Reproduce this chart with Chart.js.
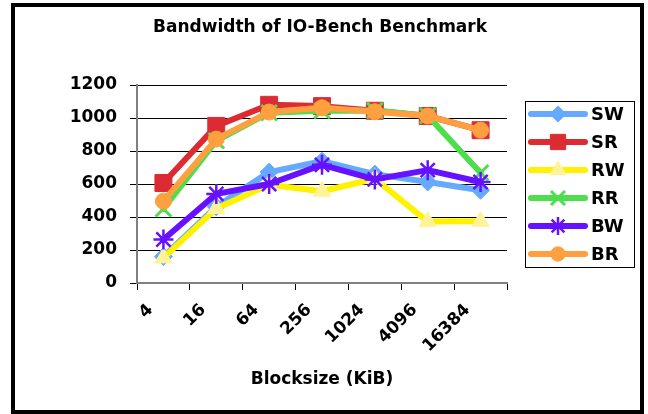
<!DOCTYPE html>
<html>
<head>
<meta charset="utf-8">
<script src="https://cdn.jsdelivr.net/npm/chart.js@4.4.1/dist/chart.umd.min.js"></script>
<style>
  html, body { margin: 0; padding: 0; background: #ffffff; }
  #wrap { width: 648px; height: 414px; }
</style>
</head>
<body>
<div id="wrap"><canvas id="c" width="648" height="414"></canvas></div>
<script>
// Block sizes on the category axis (KiB)
const blockSizes = ['4', '16', '64', '256', '1024', '4096', '16384'];

// Bandwidth per access pattern
const swValues = [160, 462, 672, 738, 660, 612, 562];
const srValues = [606, 952, 1080, 1072, 1044, 1012, 926];
const rwValues = [152, 452, 596, 556, 632, 372, 374];
const rrValues = [450, 862, 1032, 1044, 1046, 1014, 668];
const bwValues = [264, 540, 600, 716, 628, 684, 612];
const brValues = [496, 872, 1036, 1062, 1038, 1012, 926];

// Value axis
const yMin = 0;
const yMax = 1200;
const yStep = 200;

const chartTitle = 'Bandwidth of IO-Bench Benchmark';
const xAxisTitle = 'Blocksize (KiB)';
const FONT = '"DejaVu Sans", Verdana, sans-serif';

function series(label, data, color, style, radius, extra) {
  return Object.assign({
    label: label,
    data: data,
    borderColor: color,
    backgroundColor: color,
    borderWidth: 6,
    borderCapStyle: 'round',
    borderJoinStyle: 'round',
    pointStyle: style,
    pointRadius: radius,
    pointHoverRadius: radius,
    pointBackgroundColor: color,
    pointBorderColor: color,
    pointBorderWidth: 1,
    tension: 0,
    fill: false
  }, extra || {});
}

const datasets = [
  series('SW', swValues, '#66aaff', 'rectRot', 9, { order: 6 }),
  series('SR', srValues, '#dd2b33', 'rect', 12, { order: 5 }),
  series('RW', rwValues, '#fff200', 'triangle', 10, {
    order: 4, pointBackgroundColor: '#fff39a', pointBorderColor: '#fff39a'
  }),
  series('RR', rrValues, '#4ddd4d', 'crossRot', 11, { order: 3, pointBorderWidth: 3 }),
  series('BW', bwValues, '#6611ff', 'star', 10, { order: 2, pointBorderWidth: 2.5 }),
  series('BR', brValues, '#ffa040', 'circle', 8, { order: 1 })
];

// Frame, title and the boxed legend on the right
const decorations = {
  id: 'decorations',
  afterDraw(chart) {
    const ctx = chart.ctx;
    ctx.save();

    // outer frame
    ctx.strokeStyle = '#000';
    ctx.lineWidth = 4;
    ctx.strokeRect(13, 5, 629, 407);

    // title
    ctx.fillStyle = '#000';
    ctx.font = 'bold 17px ' + FONT;
    ctx.textAlign = 'center';
    ctx.textBaseline = 'middle';
    ctx.fillText(chartTitle, 320, 28);

    // legend box
    ctx.lineWidth = 1;
    ctx.strokeStyle = '#000';
    ctx.strokeRect(525.5, 101.5, 109, 166);

    ctx.font = 'bold 18px ' + FONT;
    ctx.textAlign = 'left';
    chart.data.datasets.forEach((ds, i) => {
      const y = 114 + i * 28;
      ctx.strokeStyle = ds.borderColor;
      ctx.lineWidth = 6;
      ctx.lineCap = 'round';
      ctx.beginPath();
      ctx.moveTo(531, y);
      ctx.lineTo(585, y);
      ctx.stroke();

      ctx.fillStyle = ds.pointBackgroundColor;
      ctx.strokeStyle = ds.pointBorderColor;
      ctx.lineWidth = ds.pointBorderWidth;
      ctx.lineCap = 'butt';
      Chart.helpers.drawPoint(ctx, {
        pointStyle: ds.pointStyle,
        radius: ds.pointRadius * 0.9,
        rotation: 0,
        borderWidth: ds.pointBorderWidth
      }, 558, y);

      ctx.fillStyle = '#000';
      ctx.fillText(ds.label, 591, y + 1);
    });
    ctx.restore();
  }
};

new Chart(document.getElementById('c'), {
  type: 'line',
  data: { labels: blockSizes, datasets: datasets },
  options: {
    responsive: false,
    animation: false,
    devicePixelRatio: 1,
    layout: { padding: { left: 10, right: 141, top: 85, bottom: 24 } },
    plugins: {
      legend: { display: false },
      title: { display: false },
      tooltip: { enabled: false }
    },
    scales: {
      x: {
        type: 'category',
        offset: true,
        grid: {
          offset: true,
          drawOnChartArea: false,
          drawTicks: true,
          tickLength: 7,
          color: '#000'
        },
        border: { color: '#808080', width: 2 },
        ticks: {
          minRotation: 45,
          maxRotation: 45,
          padding: 10,
          labelOffset: -13,
          color: '#000',
          font: { family: FONT, size: 17, weight: 'bold' }
        },
        title: {
          display: true,
          text: xAxisTitle,
          color: '#000',
          padding: 0,
          font: { family: FONT, size: 17, weight: 'bold' }
        },
        afterFit(scale) { scale.height = 107; }
      },
      y: {
        min: yMin,
        max: yMax,
        grid: { color: '#000', lineWidth: 1, tickLength: 7 },
        border: { color: '#808080', width: 2 },
        ticks: {
          stepSize: yStep,
          padding: 13,
          color: '#000',
          font: { family: FONT, size: 17, weight: 'bold' },
          callback: (value) => String(value)
        },
        afterFit(scale) { scale.width = 127; }
      }
    }
  },
  plugins: [decorations]
});
</script>
</body>
</html>
